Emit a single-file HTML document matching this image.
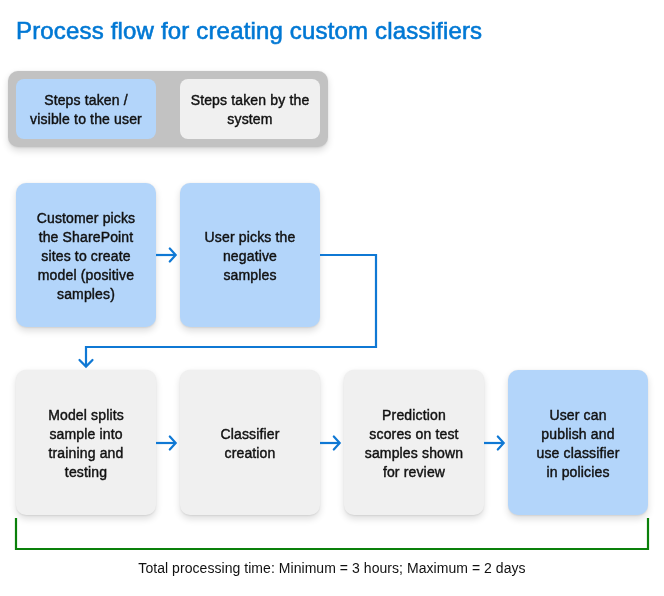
<!DOCTYPE html>
<html><head><meta charset="utf-8">
<style>
html,body{margin:0;padding:0;background:#fff;}
.box,.title,.footer{will-change:transform;}
body{width:664px;height:596px;position:relative;overflow:hidden;font-family:"Liberation Sans",sans-serif;}
.title{position:absolute;left:16px;top:17px;font-size:24px;color:#0078d4;white-space:nowrap;-webkit-text-stroke:0.6px #0078d4;letter-spacing:0.17px;}
.legend{position:absolute;left:8px;top:71px;width:320px;height:76px;background:#c2c2c2;border-radius:10px;box-shadow:0 3.2px 7.2px rgba(0,0,0,0.132),0 0.6px 1.8px rgba(0,0,0,0.08);}
.box{position:absolute;border-radius:10px;display:flex;align-items:center;justify-content:center;text-align:center;font-size:14px;line-height:19px;color:#111;-webkit-text-stroke:0.42px #111;box-sizing:border-box;padding-top:2px;letter-spacing:0.15px;}
.shadow{box-shadow:0 3.2px 7.2px rgba(0,0,0,0.132),0 0.6px 1.8px rgba(0,0,0,0.08);}
.blue{background:#b3d5fa;}
.gray{background:#f0f0f0;}
.footer{position:absolute;left:0;width:664px;top:560px;letter-spacing:0.05px;text-align:center;font-size:14px;color:#111;white-space:nowrap;}
svg{position:absolute;left:0;top:0;}
</style></head>
<body>
<div class="title">Process flow for creating custom classifiers</div>

<div class="legend"></div>
<div class="box blue" style="left:16px;top:79px;width:140px;height:60px;border-radius:8px;">Steps taken /<br>visible to the user</div>
<div class="box gray" style="left:180px;top:79px;width:140px;height:60px;border-radius:8px;">Steps taken by the<br>system</div>

<div class="box blue shadow" style="left:16px;top:183px;width:140px;height:144px;">Customer picks<br>the SharePoint<br>sites to create<br>model (positive<br>samples)</div>
<div class="box blue shadow" style="left:180px;top:183px;width:140px;height:144px;">User picks the<br>negative<br>samples</div>

<div class="box gray shadow" style="left:16px;top:370px;width:140px;height:145px;">Model splits<br>sample into<br>training and<br>testing</div>
<div class="box gray shadow" style="left:180px;top:370px;width:140px;height:145px;">Classifier<br>creation</div>
<div class="box gray shadow" style="left:344px;top:370px;width:140px;height:145px;">Prediction<br>scores on test<br>samples shown<br>for review</div>
<div class="box blue shadow" style="left:508px;top:370px;width:140px;height:145px;">User can<br>publish and<br>use classifier<br>in policies</div>

<svg width="664" height="596" viewBox="0 0 664 596">
  <g fill="none" stroke="#0f78d4" stroke-width="2.2" stroke-linecap="butt" stroke-linejoin="miter">
    <path d="M156 255 H175" />
    <path d="M320 255 H376 V347 H86 V366" />
    <path d="M156 443 H175" />
    <path d="M320 443 H339" />
    <path d="M484 443 H503" />
  </g>
  <g fill="none" stroke="#0f78d4" stroke-width="2.2" stroke-linecap="round" stroke-linejoin="miter">
    <path d="M169.8 248.5 L175.7 255 L169.8 261.5" />
    <path d="M169.8 436.5 L175.7 443 L169.8 449.5" />
    <path d="M333.8 436.5 L339.7 443 L333.8 449.5" />
    <path d="M497.8 436.5 L503.7 443 L497.8 449.5" />
    <path d="M79.5 360 L86 366.6 L92.5 360" />
  </g>
  <path d="M16 518 V549 H648 V518" fill="none" stroke="#0a800a" stroke-width="2.2"/>
</svg>

<div class="footer">Total processing time: Minimum = 3 hours; Maximum = 2 days</div>
</body></html>
